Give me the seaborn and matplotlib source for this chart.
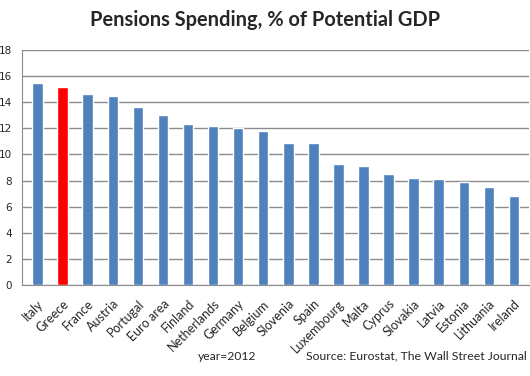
import matplotlib
matplotlib.use("Agg")
import matplotlib.pyplot as plt
import seaborn as sns
import pandas as pd

countries = ["Italy", "Greece", "France", "Austria", "Portugal", "Euro area", "Finland",
             "Netherlands", "Germany", "Belgium", "Slovenia", "Spain", "Luxembourg", "Malta",
             "Cyprus", "Slovakia", "Latvia", "Estonia", "Lithuania", "Ireland"]
values = [15.5, 15.2, 14.6, 14.5, 13.6, 13.0, 12.3, 12.2, 12.0, 11.8, 10.9, 10.9,
          9.3, 9.1, 8.5, 8.2, 8.1, 7.9, 7.5, 6.8]
yticks = [0, 2, 4, 6, 8, 10, 12, 14, 16, 18]
title = "Pensions Spending, % of Potential GDP"
note_year = "year=2012"
note_source = "Source: Eurostat, The Wall Street Journal"

sns.set_style("white")
plt.rcParams['font.family'] = ['Lato', 'DejaVu Sans']

df = pd.DataFrame({"country": countries, "value": values})
palette = {c: ("#FF0000" if c == "Greece" else "#4F81BD") for c in countries}

fig = plt.figure(figsize=(5.3, 3.76), dpi=100)
ax = fig.add_axes([22/530, 1 - 285/376, (529-22)/530, (285-50)/376])
sns.barplot(data=df, x="country", y="value", hue="country", palette=palette,
            width=0.42, legend=False, ax=ax, saturation=1)
ax.set_ylim(0, 18)
ax.set_xlim(-0.62, len(countries) - 0.4)
ax.set_yticks(yticks)
ax.yaxis.grid(True, color="#8c8c8c", linewidth=1)
ax.set_axisbelow(True)
for s in ["top", "right"]:
    ax.spines[s].set_visible(False)
ax.spines["left"].set_color("#8c8c8c")
ax.spines["bottom"].set_color("#8c8c8c")
ax.set_xlabel("")
ax.set_ylabel("")
ax.tick_params(axis="y", labelsize=8, length=0, pad=7)
ax.tick_params(axis="x", labelsize=9, length=0, pad=9)
plt.setp(ax.get_xticklabels(), rotation=45, ha="right", rotation_mode="anchor")
for lab in ax.get_yticklabels():
    lab.set_fontfamily(["DejaVu Sans"])
    lab.set_fontsize(7.5)

fig.text(0.5, 1 - 20/376, title, ha="center", va="center", fontsize=14.4, fontweight="bold")
fig.text(198/530, 1 - 356/376, note_year, ha="left", va="center", fontsize=8.7)
fig.text(527/530, 1 - 356/376, note_source, ha="right", va="center", fontsize=8.8)

fig.savefig("out.png", dpi=100)
